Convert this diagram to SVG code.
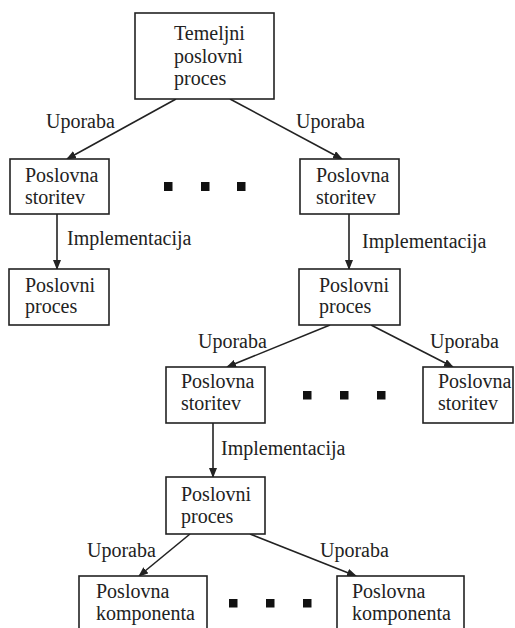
<svg xmlns="http://www.w3.org/2000/svg" width="515" height="628" viewBox="0 0 515 628">
  <defs>
    <marker id="arrow" markerWidth="10" markerHeight="8" refX="9" refY="4" orient="auto" markerUnits="userSpaceOnUse">
      <path d="M0,0 L10,4 L0,8 Z" fill="#222222"/>
    </marker>
  </defs>
  <rect width="515" height="628" fill="#ffffff"/>

  <!-- connectors: plain arrows between the boxes, with their labels -->
  <g id="connectors" stroke="#222222" stroke-width="1.6" fill="none" marker-end="url(#arrow)">
    <line x1="176" y1="99" x2="67" y2="159"/>
    <line x1="230" y1="99" x2="342" y2="159"/>
    <line x1="57" y1="214" x2="57" y2="269"/>
    <line x1="349" y1="214" x2="349" y2="269"/>
    <line x1="330" y1="325" x2="227" y2="367"/>
    <line x1="371" y1="325" x2="453" y2="367"/>
    <line x1="213" y1="423" x2="213" y2="477"/>
    <line x1="190" y1="534" x2="139" y2="576"/>
    <line x1="250" y1="534" x2="356" y2="576"/>
  </g>
  <g id="connector-labels" style="font-family: 'Liberation Serif', serif; font-size: 20px; fill: #222222">
    <text x="46" y="128">Uporaba</text>
    <text x="296" y="128">Uporaba</text>
    <text x="67" y="245">Implementacija</text>
    <text x="362" y="248">Implementacija</text>
    <text x="198" y="348">Uporaba</text>
    <text x="430" y="348">Uporaba</text>
    <text x="221" y="455">Implementacija</text>
    <text x="87" y="557">Uporaba</text>
    <text x="320" y="557">Uporaba</text>
  </g>

  <!-- nodes -->
  <g id="nodes" style="font-family: 'Liberation Serif', serif; font-size: 20px">
    <g id="temeljni-proces">
      <rect x="135" y="13" width="139" height="86" fill="#ffffff" stroke="#222222" stroke-width="1.6"/>
      <text x="174" y="40" fill="#222222">Temeljni</text>
      <text x="174" y="63" fill="#222222">poslovni</text>
      <text x="174" y="85" fill="#222222">proces</text>
    </g>

    <g id="storitev-1">
      <rect x="10" y="159" width="99" height="55" fill="#ffffff" stroke="#222222" stroke-width="1.6"/>
      <text x="25" y="182" fill="#222222">Poslovna</text>
      <text x="25" y="204" fill="#222222">storitev</text>
    </g>

    <g id="storitev-2">
      <rect x="300" y="159" width="99" height="55" fill="#ffffff" stroke="#222222" stroke-width="1.6"/>
      <text x="316" y="182" fill="#222222">Poslovna</text>
      <text x="316" y="204" fill="#222222">storitev</text>
    </g>

    <g id="dots-1" fill="#111111">
      <rect x="164" y="182" width="8.5" height="9"/>
      <rect x="201" y="182" width="8.5" height="9"/>
      <rect x="237" y="182" width="8.5" height="9"/>
    </g>

    <g id="proces-1">
      <rect x="9" y="269" width="100" height="56" fill="#ffffff" stroke="#222222" stroke-width="1.6"/>
      <text x="25" y="292" fill="#222222">Poslovni</text>
      <text x="25" y="313" fill="#222222">proces</text>
    </g>

    <g id="proces-2">
      <rect x="299" y="269" width="101" height="56" fill="#ffffff" stroke="#222222" stroke-width="1.6"/>
      <text x="319" y="292" fill="#222222">Poslovni</text>
      <text x="319" y="313" fill="#222222">proces</text>
    </g>

    <g id="storitev-3">
      <rect x="166" y="367" width="99" height="56" fill="#ffffff" stroke="#222222" stroke-width="1.6"/>
      <text x="181" y="388" fill="#222222">Poslovna</text>
      <text x="181" y="410" fill="#222222">storitev</text>
    </g>

    <g id="dots-2" fill="#111111">
      <rect x="303" y="391" width="8.5" height="8.5"/>
      <rect x="340" y="391" width="8.5" height="8.5"/>
      <rect x="377" y="391" width="8.5" height="8.5"/>
    </g>

    <g id="storitev-4">
      <rect x="423" y="367" width="90" height="56" fill="#ffffff" stroke="#222222" stroke-width="1.6"/>
      <text x="438" y="388" fill="#222222">Poslovna</text>
      <text x="438" y="410" fill="#222222">storitev</text>
    </g>

    <g id="proces-3">
      <rect x="166" y="477" width="99" height="57" fill="#ffffff" stroke="#222222" stroke-width="1.6"/>
      <text x="181" y="501" fill="#222222">Poslovni</text>
      <text x="181" y="523" fill="#222222">proces</text>
    </g>

    <g id="komponenta-1">
      <rect x="79" y="576" width="128" height="70" fill="#ffffff" stroke="#222222" stroke-width="1.6"/>
      <text x="96" y="598" fill="#222222">Poslovna</text>
      <text x="96" y="620" fill="#222222">komponenta</text>
    </g>

    <g id="dots-3" fill="#111111">
      <rect x="229" y="599" width="8.5" height="8.5"/>
      <rect x="266" y="599" width="8.5" height="8.5"/>
      <rect x="303" y="599" width="8.5" height="8.5"/>
    </g>

    <g id="komponenta-2">
      <rect x="337" y="576" width="127" height="70" fill="#ffffff" stroke="#222222" stroke-width="1.6"/>
      <text x="352" y="598" fill="#222222">Poslovna</text>
      <text x="352" y="620" fill="#222222">komponenta</text>
    </g>
  </g>
</svg>
